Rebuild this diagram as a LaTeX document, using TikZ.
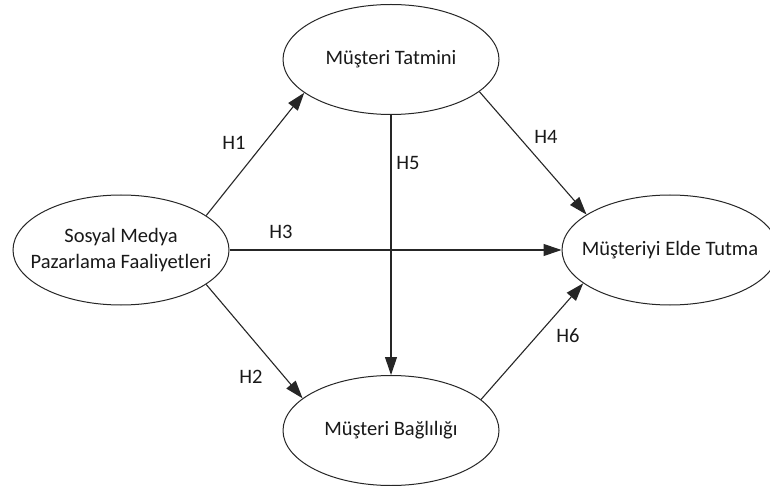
\documentclass[tikz,border=0pt]{standalone}
\usepackage{fontspec}
\setmainfont{Carlito}
\usetikzlibrary{arrows.meta,shapes.geometric}
\begin{document}
\begin{tikzpicture}[x=1pt,y=-1pt,
  construct/.style={ellipse,draw=black!85,line width=1pt,minimum width=216pt,minimum height=110pt,inner xsep=-20pt,inner ysep=0pt,align=center,font=\fontsize{20.5}{26.5}\selectfont,text=black!90},
  path/.style={draw=black!85,line width=1.1pt,-{Triangle[length=18pt,width=12pt]}},
  hyp/.style={font=\fontsize{20.5}{24}\selectfont,text=black!90,inner sep=0pt}]
\useasboundingbox[fill=white] (0,0) rectangle (770,486);
\node[construct] (smm) at (121,250) {Sosyal Medya\\Pazarlama Faaliyetleri};
\node[construct] (mt) at (391,59.5) {Müşteri Tatmini};
\node[construct] (mb) at (391,430.5) {Müşteri Bağlılığı};
\node[construct] (met) at (670,250) {Müşteriyi Elde Tutma};
\draw[path] (smm.22) -- (mt.201);
\draw[path] (smm.-22) -- (mb.160);
\draw[path] (smm.0) -- (met.180);
\draw[path] (mt.-20) -- (met.157);
\draw[path] (mt.-90) -- (mb.90);
\draw[path] (mb.19) -- (met.201);
\node[hyp] (h1) at (234,143) {H1};
\node[hyp] (h2) at (251,377) {H2};
\node[hyp] (h3) at (281,232) {H3};
\node[hyp] (h4) at (546,137) {H4};
\node[hyp] (h5) at (408,163) {H5};
\node[hyp] (h6) at (568,336) {H6};
\end{tikzpicture}
\end{document}
